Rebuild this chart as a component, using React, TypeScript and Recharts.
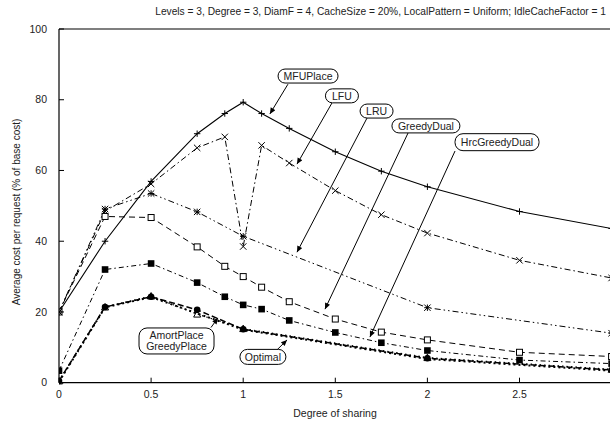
import React from "react";
import { LineChart, Line, XAxis, YAxis, ReferenceLine, ReferenceDot } from "recharts";

// degree of sharing sampled per policy
const sharingFull = [0, 0.25, 0.5, 0.75, 0.9, 1, 1.1, 1.25, 1.5, 1.75, 2, 2.5, 3];
const sharingSparse = [0, 0.25, 0.5, 0.75, 1, 2, 3];
const sharingOptimal = [0, 0.25, 0.5, 1, 2, 3];

// average cost per request, % of base cost
const mfuPlace = [20, 40, 56.9, 70.4, 76.1, 79.3, 76.1, 71.9, 65.3, 59.8, 55.4, 48.4, 43.6];
const lfu = [20, 48.5, 56.2, 66.4, 69.5, 38.5, 67.1, 62.1, 54.3, 47.5, 42.3, 34.6, 29.6];
const lru = [20, 49.1, 53.5, 48.3, 41.4, 21.2, 14.0];
const greedyDual = [20, 47.0, 46.7, 38.4, 32.9, 30.0, 27.0, 22.9, 18.0, 14.3, 12.1, 8.6, 7.4];
const hrcGreedyDual = [3.4, 32.0, 33.7, 28.3, 24.3, 22.0, 20.8, 17.6, 14.2, 11.3, 9.1, 6.4, 5.4];
const amortPlace = [0.5, 21.4, 24.3, 20.6, 15.1, 6.9, 3.6];
const greedyPlace = [0.5, 21.4, 24.5, 19.4, 15.3, 7.1, 3.8];
const optimal = [0.3, 21.3, 24.2, 15.0, 6.7, 3.4];

const xTicks = [0, 0.5, 1, 1.5, 2, 2.5];
const yTicks = [0, 20, 40, 60, 80, 100];

const title = "Levels = 3, Degree = 3, DiamF = 4, CacheSize = 20%, LocalPattern = Uniform; IdleCacheFactor = 1";
const font = "'Liberation Sans', Arial, Helvetica, sans-serif";

const rows = (xs: number[], ys: number[]) => xs.map((x, i) => ({ x, y: ys[i] }));

type Marker = "plus" | "cross" | "star" | "openSquare" | "filledSquare" | "circle" | "triangle" | "none";

const drawMarker = (kind: Marker, p: any) => {
  const { cx, cy, index } = p;
  const key = `m-${kind}-${index}`;
  if (cx == null || cy == null || kind === "none") return <g key={key} />;
  const s = 3.2;
  switch (kind) {
    case "plus":
      return <path key={key} d={`M${cx - s},${cy}h${2 * s}M${cx},${cy - s}v${2 * s}`} stroke="#000" strokeWidth={1} />;
    case "cross":
      return <path key={key} d={`M${cx - s},${cy - s}l${2 * s},${2 * s}M${cx - s},${cy + s}l${2 * s},${-2 * s}`} stroke="#000" strokeWidth={1} />;
    case "star":
      return (
        <path key={key}
          d={`M${cx - s},${cy}h${2 * s}M${cx},${cy - s}v${2 * s}M${cx - s},${cy - s}l${2 * s},${2 * s}M${cx - s},${cy + s}l${2 * s},${-2 * s}`}
          stroke="#000" strokeWidth={1} />
      );
    case "openSquare":
      return <rect key={key} x={cx - 3} y={cy - 3} width={6} height={6} fill="#fff" stroke="#000" strokeWidth={1} />;
    case "filledSquare":
      return <rect key={key} x={cx - 3.3} y={cy - 3.3} width={6.6} height={6.6} fill="#000" />;
    case "circle":
      return <circle key={key} cx={cx} cy={cy} r={3.3} fill="#000" />;
    case "triangle":
      return <path key={key} d={`M${cx},${cy - 3.5}L${cx + 3.5},${cy + 3}L${cx - 3.5},${cy + 3}Z`} fill="none" stroke="#000" strokeWidth={1} />;
  }
  return <g key={key} />;
};

const series = [
  { name: "Optimal", data: rows(sharingOptimal, optimal), dash: "2 3", width: 2, marker: "none" as Marker },
  { name: "GreedyPlace", data: rows(sharingSparse, greedyPlace), dash: "1.5 3", width: 1.2, marker: "triangle" as Marker },
  { name: "AmortPlace", data: rows(sharingSparse, amortPlace), dash: "6 3", width: 1.5, marker: "circle" as Marker },
  { name: "HrcGreedyDual", data: rows(sharingFull, hrcGreedyDual), dash: "5 3 1.5 3", width: 1, marker: "filledSquare" as Marker },
  { name: "GreedyDual", data: rows(sharingFull, greedyDual), dash: "6 4", width: 1, marker: "openSquare" as Marker },
  { name: "LRU", data: rows(sharingSparse, lru), dash: "6 3 1.5 3 1.5 3", width: 1, marker: "star" as Marker },
  { name: "LFU", data: rows(sharingFull, lfu), dash: "6 3 1.5 3", width: 1, marker: "cross" as Marker },
  { name: "MFUPlace", data: rows(sharingFull, mfuPlace), dash: undefined, width: 1.1, marker: "plus" as Marker },
];

// callout boxes and their arrows, in data coordinates
const callouts = [
  { text: ["MFUPlace"], at: [1.352, 86.7], w: 60, h: 14, from: [1.243, 84.4], to: [1.145, 76.0] },
  { text: ["LFU"], at: [1.536, 81.1], w: 33, h: 14, from: [1.482, 79.1], to: [1.292, 61.8] },
  { text: ["LRU"], at: [1.724, 76.8], w: 33, h: 14, from: [1.672, 74.8], to: [1.292, 36.9] },
  { text: ["GreedyDual"], at: [1.992, 72.6], w: 68, h: 14, from: [1.895, 70.6], to: [1.444, 20.8] },
  { text: ["HrcGreedyDual"], at: [2.378, 68.0], w: 84, h: 17, from: [2.150, 65.5], to: [1.688, 12.9] },
  { text: ["AmortPlace", "GreedyPlace"], at: [0.638, 11.8], w: 75, h: 26, from: [0.825, 15.6], to: [0.863, 18.3] },
  { text: ["Optimal"], at: [1.107, 7.3], w: 46, h: 15, from: [1.184, 9.3], to: [1.238, 12.1] },
];

const Callout = (p: any) => {
  const { cx, cy, text, w, h } = p;
  const r = Math.min(h / 2, 8);
  const lh = 11.5;
  const y0 = cy - ((text.length - 1) * lh) / 2;
  return (
    <g>
      <rect x={cx - w / 2} y={cy - h / 2} width={w} height={h} rx={r} ry={r} fill="#fff" stroke="#000" strokeWidth={1} />
      {text.map((t: string, i: number) => (
        <text key={t} x={cx} y={y0 + i * lh} dy="0.36em" textAnchor="middle" fontSize={10.5} fontFamily={font} fill="#222">
          {t}
        </text>
      ))}
    </g>
  );
};

export default function App() {
  const axisTick = { fill: "#222", fontSize: 10.5, fontFamily: font };
  return (
    <div style={{ position: "absolute", left: 0, top: 0, width: 610, height: 423, overflow: "hidden", background: "#fff" }}>
      <LineChart width={622} height={423} margin={{ top: 19, right: 10.4, bottom: 10.3, left: 19 }}>
        <defs>
          <marker id="arrowHead" viewBox="0 0 10 10" refX="10" refY="5" markerWidth="7" markerHeight="6"
            markerUnits="userSpaceOnUse" orient="auto">
            <path d="M0,0.5 L10,5 L0,9.5 z" fill="#000" />
          </marker>
        </defs>
        <XAxis dataKey="x" type="number" domain={[0, 3]} ticks={xTicks} allowDataOverflow
          axisLine={{ stroke: "#000", strokeWidth: 1.2 }} tickLine={{ stroke: "#000" }}
          tickSize={-5} tickMargin={13} tick={axisTick} height={30} interval={0} />
        <XAxis xAxisId="top" orientation="top" dataKey="x" type="number" domain={[0, 3]} ticks={xTicks}
          axisLine={{ stroke: "#000", strokeWidth: 1.2 }} tickLine={{ stroke: "#000" }}
          tickSize={-5} tick={false} height={10} />
        <YAxis type="number" domain={[0, 100]} ticks={yTicks} width={40}
          axisLine={{ stroke: "#000", strokeWidth: 1.2 }} tickLine={{ stroke: "#000" }}
          tickSize={-5} tickMargin={17} tick={axisTick} interval={0} />
        {series.map((s) => (
          <Line key={s.name} name={s.name} data={s.data} dataKey="y" type="linear" stroke="#000"
            strokeWidth={s.width} strokeDasharray={s.dash} dot={(p: any) => drawMarker(s.marker, p)}
            activeDot={false} isAnimationActive={false} />
        ))}
        {callouts.map((c) => (
          <ReferenceLine key={`a-${c.text[0]}`} segment={[{ x: c.from[0], y: c.from[1] }, { x: c.to[0], y: c.to[1] }]}
            stroke="#000" strokeWidth={1} markerEnd="url(#arrowHead)" ifOverflow="visible" />
        ))}
        {callouts.map((c) => (
          <ReferenceDot key={`b-${c.text[0]}`} x={c.at[0]} y={c.at[1]} ifOverflow="visible"
            shape={(p: any) => <Callout {...p} text={c.text} w={c.w} h={c.h} />} />
        ))}
        <text x={606} y={11} dy="0.36em" textAnchor="end" fontSize={10.2} fontFamily={font} fill="#222">{title}</text>
        <text x={335} y={413} dy="0.36em" textAnchor="middle" fontSize={10.5} fontFamily={font} fill="#222">Degree of sharing</text>
        <text x={16} y={212} dy="0.36em" textAnchor="middle" fontSize={10} fontFamily={font} fill="#222"
          transform="rotate(-90 16 212)">Average cost per request (% of base cost)</text>
      </LineChart>
    </div>
  );
}
